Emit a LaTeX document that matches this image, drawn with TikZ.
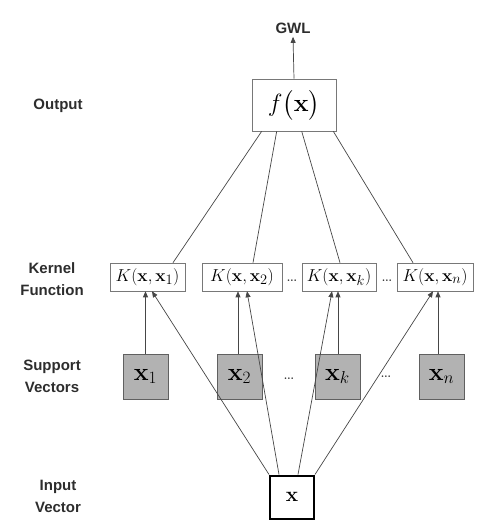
\documentclass[tikz,border=0pt]{standalone}
\usepackage{amsmath}
\usepackage[no-math]{fontspec}
\newfontfamily\lblfont{Liberation Sans}
\usetikzlibrary{arrows.meta,calc}
\definecolor{txt}{RGB}{45,45,45}
\definecolor{ln}{RGB}{70,70,70}
\definecolor{bx}{RGB}{120,120,120}
\definecolor{svfill}{RGB}{178,178,178}
\begin{document}
\begin{tikzpicture}[x=1pt,y=-1pt,
  lbl/.style={font=\lblfont\fontsize{15}{22}\selectfont\bfseries, text=txt, align=center},
  kbox/.style={draw=bx, line width=0.6pt, fill=white, minimum height=28pt, inner sep=0pt, font=\fontsize{19}{20}\selectfont},
  svbox/.style={draw=bx!80!black, line width=0.6pt, fill=svfill, minimum width=45pt, minimum height=45pt, inner sep=0pt, font=\fontsize{25}{28}\selectfont},
  conn/.style={draw=ln, line width=0.7pt},
  arr/.style={conn, -{Triangle[length=6pt,width=5pt]}},
  dts/.style={font=\fontsize{20}{22}\selectfont, text=txt}
]
\useasboundingbox (0,0) rectangle (478,520);

% labels
\node[lbl] (lgwl) at (293,28) {GWL};
\node[lbl] (lout) at (58,106) {Output};
\node[lbl] (lker) at (52,279) {Kernel\\Function};
\node[lbl] (lsup) at (52,376) {Support\\Vectors};
\node[lbl] (linp) at (58,496) {Input\\Vector};

% output
\node[draw=bx, line width=0.6pt, minimum width=84pt, minimum height=52pt, inner sep=0pt,
      font=\fontsize{31}{33}\selectfont] (fx) at (294,105) {$f\bigl(\mathbf{x}\bigr)$};

% kernel boxes
\node[kbox, minimum width=75pt] (k1) at (147.5,277) {$K(\mathbf{x},\mathbf{x}_1)$};
\node[kbox, minimum width=80pt] (k2) at (242,277) {$K(\mathbf{x},\mathbf{x}_2)$};
\node[kbox, minimum width=74pt] (k3) at (339,277) {$K(\mathbf{x},\mathbf{x}_k)$};
\node[kbox, minimum width=76pt] (k4) at (435,277) {$K(\mathbf{x},\mathbf{x}_n)$};
\node[dts] (kd1) at (292,281) {\ldots};
\node[dts] (kd2) at (387,281) {\ldots};

% support vectors
\node[svbox] (s1) at (145.5,376.5) {$\mathbf{x}_1$};
\node[svbox] (s2) at (239.5,376.5) {$\mathbf{x}_2$};
\node[svbox] (s3) at (337.5,376.5) {$\mathbf{x}_k$};
\node[svbox] (s4) at (441.5,376.5) {$\mathbf{x}_n$};
\node[dts] (sd1) at (289,379) {\ldots};
\node[dts] (sd2) at (386,377) {\ldots};

% input
\node[draw=black, line width=2pt, minimum width=44pt, minimum height=43pt, inner sep=0pt,
      font=\fontsize{20}{22}\selectfont] (in) at (292,497) {$\mathbf{x}$};

% output arrow
\draw[arr] (fx.north) -- (lgwl.south);

% f(x) to kernels
\draw[conn] ($(fx.south west)+(10,0)$) -- ($(k1.north)+(25.5,0)$);
\draw[conn] ($(fx.south west)+(25,0)$) -- ($(k2.north)+(11,0)$);
\draw[conn] ($(fx.south west)+(50,0)$) -- ($(k3.north)+(1,0)$);
\draw[conn] ($(fx.south east)+(-3,0)$) -- ($(k4.north)+(-22,0)$);

% support vectors to kernels
\coordinate (a1) at (s1.north);
\coordinate (a2) at ($(s2.north)+(-1.5,0)$);
\coordinate (a3) at ($(s3.north)+(0.5,0)$);
\coordinate (a4) at ($(s4.north)+(-3.5,0)$);
\draw[arr] (a1) -- (a1 |- k1.south);
\draw[arr] (a2) -- (a2 |- k2.south);
\draw[arr] (a3) -- (a3 |- k3.south);
\draw[arr] (a4) -- (a4 |- k4.south);

% input to kernels
\draw[arr] (in.north west) -- ($(k1.south)+(4.5,0)$);
\draw[arr] ($(in.north west)+(10,0)$) -- ($(k2.south)+(5,0)$);
\draw[arr] ($(in.north)+(6,0)$) -- ($(k3.south)+(-7,0)$);
\draw[arr] (in.north east) -- ($(k4.south)+(-2,0)$);
\end{tikzpicture}
\end{document}
